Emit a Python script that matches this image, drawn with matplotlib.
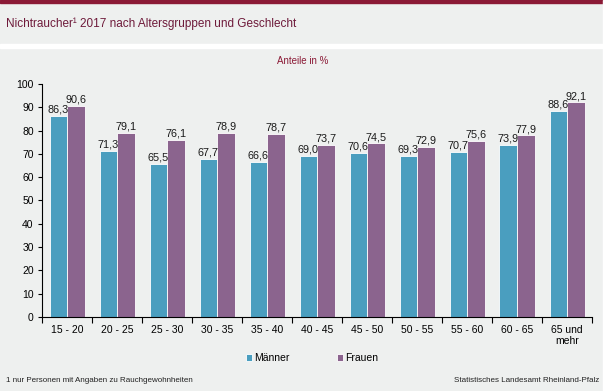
import numpy as np
import matplotlib.pyplot as plt
from matplotlib.patches import Rectangle

plt.rcParams['font.family'] = ['Liberation Sans', 'DejaVu Sans']

categories = ['15 - 20', '20 - 25', '25 - 30', '30 - 35', '35 - 40', '40 - 45',
              '45 - 50', '50 - 55', '55 - 60', '60 - 65', '65 und\nmehr']
maenner = [86.3, 71.3, 65.5, 67.7, 66.6, 69.0, 70.6, 69.3, 70.7, 73.9, 88.6]
frauen = [90.6, 79.1, 76.1, 78.9, 78.7, 73.7, 74.5, 72.9, 75.6, 77.9, 92.1]
y_ticks = list(range(0, 101, 10))

W, H = 605, 391
bg = '#eef0ef'
c_m = '#4a9ebf'
c_f = '#8b648e'
dark_red = '#8b1a36'

fig = plt.figure(figsize=(W / 100, H / 100), dpi=100)
fig.patch.set_facecolor(bg)

# Kopfzeile: roter Strich oben, weisser Trenner unter dem Titel
fig.add_artist(Rectangle((0, 1 - 3 / H), 1, 3 / H, transform=fig.transFigure,
                         color=dark_red, zorder=0))
fig.add_artist(Rectangle((0, 1 - 48 / H), 1, 4 / H, transform=fig.transFigure,
                         color='white', zorder=0))
fig.add_artist(Rectangle((1 - 2 / W, 0), 2 / W, 1, transform=fig.transFigure,
                         color='white', zorder=0))

fig.text(6 / W, 1 - 24 / H, 'Nichtraucher¹ 2017 nach Altersgruppen und Geschlecht',
         color='#6e1a3a', fontsize=8.5, va='center', ha='left')
fig.text(0.5, 1 - 61 / H, 'Anteile in %', color=dark_red, fontsize=7,
         va='center', ha='center')

ax = fig.add_axes([42 / W, (H - 317) / H, 550 / W, (317 - 84) / H])
ax.set_facecolor(bg)

x = np.arange(len(categories))
bw = 0.35
b1 = ax.bar(x - bw / 2, maenner, bw, color=c_m, edgecolor='white', linewidth=0.6,
            label='Männer')
b2 = ax.bar(x + bw / 2, frauen, bw, color=c_f, edgecolor='white', linewidth=0.6,
            label='Frauen')

for rects, vals in ((b1, maenner), (b2, frauen)):
    for r, v in zip(rects, vals):
        ax.text(r.get_x() + r.get_width() / 2, v + 0.6, f'{v:.1f}'.replace('.', ','),
                ha='center', va='bottom', fontsize=7.8, color='#1a1a1a')

ax.set_xlim(-0.5, len(categories) - 0.5)
ax.set_ylim(0, 100)
ax.set_yticks(y_ticks)
ax.tick_params(axis='y', labelsize=7.5, length=3, width=0.8, pad=3)

ax.set_xticks(x)
ax.set_xticklabels(categories, fontsize=7.5, linespacing=1.1)
ax.set_xticks(np.arange(-0.5, len(categories), 1), minor=True)
ax.tick_params(axis='x', which='major', length=0, pad=6)
ax.tick_params(axis='x', which='minor', length=4, width=0.8)

for s in ('top', 'right'):
    ax.spines[s].set_visible(False)
ax.spines['left'].set_linewidth(0.8)
ax.spines['bottom'].set_linewidth(0.8)

fig.legend(handles=[b1, b2], labels=['Männer', 'Frauen'], loc='center',
           bbox_to_anchor=(312 / W, 1 - 358 / H), ncol=2, frameon=False,
           fontsize=7.5, handlelength=0.6, handleheight=0.6, handletextpad=0.2,
           columnspacing=4.6)

fig.text(6 / W, 1 - 381 / H, '1 nur Personen mit Angaben zu Rauchgewohnheiten',
         fontsize=5.8, color='#222222', va='center', ha='left')
fig.text(1 - 6 / W, 1 - 381 / H, 'Statistisches Landesamt Rheinland-Pfalz',
         fontsize=5.8, color='#222222', va='center', ha='right')

fig.savefig('out.png', dpi=100, facecolor=fig.get_facecolor())
